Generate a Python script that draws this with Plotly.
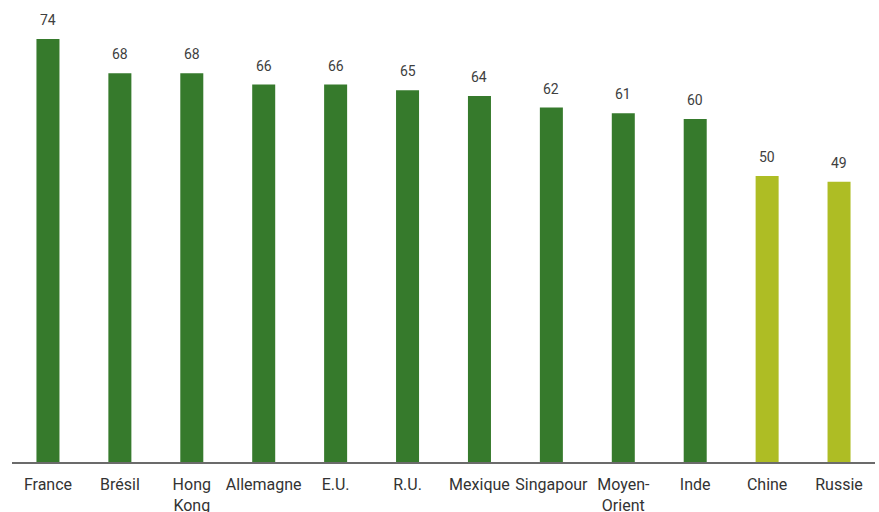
import plotly.graph_objects as go

categories = ["France", "Brésil", "Hong<br>Kong", "Allemagne", "E.U.", "R.U.", "Mexique",
              "Singapour", "Moyen-<br>Orient", "Inde", "Chine", "Russie"]
values = [74, 68, 68, 66, 66, 65, 64, 62, 61, 60, 50, 49]
dark_green = "#367A2C"
light_green = "#AEBD24"
colors = [dark_green] * 10 + [light_green] * 2

font_family = "Liberation Sans Narrow, Roboto, sans-serif"

fig = go.Figure()
fig.add_trace(go.Bar(x=categories, y=values, marker=dict(color=colors, line=dict(width=0)),
                     hoverinfo="skip"))

for c, v in zip(categories, values):
    fig.add_annotation(x=c, y=v, text=str(v), showarrow=False, yanchor="bottom", yshift=9,
                       font=dict(size=14, color="#404040", family=font_family))

fig.update_layout(
    width=879, height=512,
    margin=dict(l=12, r=4, t=0, b=50),
    plot_bgcolor="white", paper_bgcolor="white",
    bargap=0.68,
    showlegend=False,
    xaxis=dict(showline=True, linecolor="#6b6b6b", linewidth=2, ticks="",
               tickangle=0, automargin=False, ticklabelstandoff=7,
               tickfont=dict(size=16, color="#333333", family=font_family),
               showgrid=False),
    yaxis=dict(range=[0, 80.8], visible=False, showgrid=False, zeroline=False),
)

fig.write_html("out.html")
